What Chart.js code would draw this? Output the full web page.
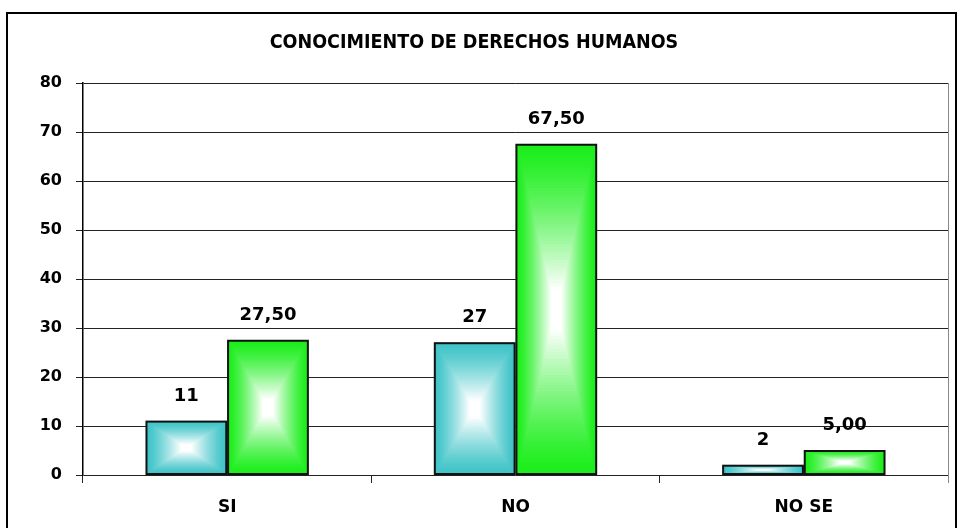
<!DOCTYPE html>
<html>
<head>
<meta charset="utf-8">
<script src="https://cdn.jsdelivr.net/npm/chart.js@4"></script>
<style>
  body { margin: 0; background: #fff; }
  #wrap { width: 961px; height: 528px; position: relative; }
</style>
</head>
<body>
<div id="wrap"><canvas id="chartDerechos"></canvas></div>
<script>
const categorias = ["SI", "NO", "NO SE"];
const frecuencia = [11, 27, 2];
const porcentaje = [27.5, 67.5, 5.0];
const ticksY = [0, 10, 20, 30, 40, 50, 60, 70, 80];

const tealEdge = [64, 196, 200],
  greenEdge = [28, 238, 28];

// etiqueta de cada barra: entero para la frecuencia, dos decimales con coma para el %
const formato = (dsIndex, v) =>
  dsIndex === 0 ? String(v) : v.toFixed(2).replace(".", ",");

// marco exterior y borde derecho del area de trazado
const marcoPlugin = {
  id: "marco",
  beforeDraw(chart) {
    const ctx = chart.ctx;
    ctx.save();
    ctx.fillStyle = "#fff";
    ctx.fillRect(0, 0, chart.width, chart.height);
    ctx.strokeStyle = "#000";
    ctx.lineWidth = 2;
    ctx.strokeRect(7, 13, 949, 530);
    ctx.restore();
  },
  afterDraw(chart) {
    const a = chart.chartArea,
      ctx = chart.ctx;
    ctx.save();
    ctx.strokeStyle = "#888";
    ctx.lineWidth = 1;
    ctx.beginPath();
    ctx.moveTo(a.right + 0.5, a.top);
    ctx.lineTo(a.right + 0.5, a.bottom + 8);
    ctx.stroke();
    ctx.restore();
  },
};

// relleno degradado rectangular (del borde al centro blanco) y etiquetas de valor
const degradadoPlugin = {
  id: "degradado",
  afterDatasetsDraw(chart) {
    const ctx = chart.ctx;
    chart.data.datasets.forEach((ds, di) => {
      const meta = chart.getDatasetMeta(di);
      const edge = di === 0 ? tealEdge : greenEdge;
      meta.data.forEach((bar, i) => {
        const p = bar.getProps(["x", "y", "base", "width"], true);
        const left = p.x - p.width / 2 + 1,
          right = p.x + p.width / 2 - 1,
          top = Math.min(p.y, p.base) + 1,
          bottom = Math.max(p.y, p.base) - 1;
        const w = right - left,
          h = bottom - top;
        ctx.save();
        const pasos = 50;
        for (let s = 0; s < pasos; s++) {
          const t = s / pasos;
          const m = Math.min(1, Math.pow(t, 1.3) * 1.2);
          const c = edge.map((e) => Math.round(e + (255 - e) * m));
          ctx.fillStyle = `rgb(${c[0]},${c[1]},${c[2]})`;
          ctx.fillRect(
            left + (t * w) / 2,
            top + (t * h) / 2,
            w * (1 - t),
            h * (1 - t)
          );
        }
        ctx.strokeStyle = "#111";
        ctx.lineWidth = 2;
        ctx.strokeRect(left - 0.5, top - 0.5, w + 1, h + 1);

        ctx.fillStyle = "#000";
        ctx.font = "bold 18px 'DejaVu Sans'";
        ctx.textAlign = "center";
        ctx.textBaseline = "middle";
        ctx.fillText(formato(di, ds.data[i]), p.x, p.y - 25);
        ctx.restore();
      });
    });
  },
};

function main() {
  const ctx = document.getElementById("chartDerechos").getContext("2d");
  new Chart(ctx, {
    type: "bar",
    data: {
      labels: categorias,
      datasets: [
        {
          label: "Frecuencia",
          data: frecuencia,
          backgroundColor: `rgb(${tealEdge.join(",")})`,
          borderColor: "#111",
          borderWidth: 0,
        },
        {
          label: "Porcentaje",
          data: porcentaje,
          backgroundColor: `rgb(${greenEdge.join(",")})`,
          borderColor: "#111",
          borderWidth: 0,
        },
      ],
    },
    options: {
      responsive: true,
      maintainAspectRatio: false,
      animation: false,
      layout: { padding: { left: 0, right: 13, top: 0, bottom: 0 } },
      datasets: {
        bar: { categoryPercentage: 0.566, barPercentage: 0.99 },
      },
      plugins: {
        legend: { display: false },
        tooltip: { enabled: false },
        title: {
          display: true,
          text: "CONOCIMIENTO DE DERECHOS HUMANOS",
          color: "#000",
          font: { family: "'DejaVu Sans Condensed'", size: 19.5, weight: "bold" },
          padding: { top: 31.3, bottom: 28.3 },
        },
      },
      scales: {
        x: {
          afterFit: (scale) => {
            scale.height = 53;
          },
          grid: {
            display: true,
            drawOnChartArea: false,
            tickLength: 8,
            color: "#222",
          },
          border: { display: false },
          ticks: {
            color: "#000",
            padding: 14,
            font: { family: "'DejaVu Sans'", size: 17, weight: "bold" },
          },
        },
        y: {
          min: 0,
          max: 80,
          afterFit: (scale) => {
            scale.width = 83;
          },
          afterBuildTicks: (scale) => {
            scale.ticks = ticksY.map((v) => ({ value: v }));
          },
          grid: { color: "#222", lineWidth: 1, tickLength: 7 },
          border: { color: "#000", width: 1.5 },
          ticks: {
            color: "#000",
            padding: 14,
            font: { family: "'DejaVu Sans'", size: 16, weight: "bold" },
          },
        },
      },
    },
    plugins: [marcoPlugin, degradadoPlugin],
  });
}

main();
</script>
</body>
</html>
